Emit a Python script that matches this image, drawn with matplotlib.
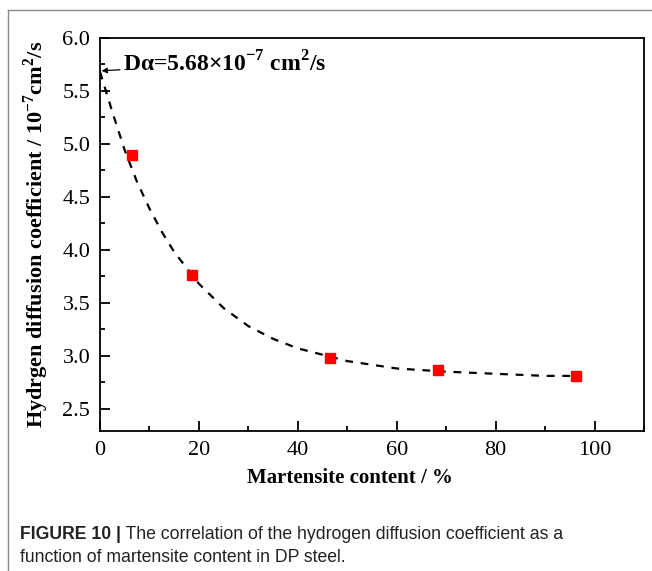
import matplotlib
matplotlib.use('Agg')
import matplotlib.pyplot as plt
from matplotlib.lines import Line2D
from matplotlib.ticker import MultipleLocator

# measured points
martensite = [6.5, 18.5, 46.5, 68.3, 96.3]
diffusion = [4.90, 3.76, 2.98, 2.87, 2.81]

# dashed fit curve
fit_x = [0, 2.5, 5, 7.5, 10, 12.5, 15, 20, 25, 30, 35, 40, 50, 60, 70, 80, 90, 96]
fit_y = [5.68, 5.30, 4.94, 4.64, 4.39, 4.17, 3.98, 3.68, 3.45, 3.28, 3.16, 3.07,
         2.95, 2.88, 2.85, 2.83, 2.81, 2.81]

x_ticks = [0, 20, 40, 60, 80, 100]
y_ticks = [2.5, 3.0, 3.5, 4.0, 4.5, 5.0, 5.5, 6.0]

plt.rcParams['font.family'] = 'Liberation Serif'
plt.rcParams['mathtext.fontset'] = 'custom'
plt.rcParams['mathtext.rm'] = 'Liberation Serif'
plt.rcParams['mathtext.bf'] = 'Liberation Serif:bold'

fig = plt.figure(figsize=(6.52, 5.71), dpi=100)
ax = fig.add_axes([0.1534, 0.2452, 0.8343, 0.6883])

ax.plot(fit_x, fit_y, color='black', linestyle=(0, (3.5, 3.5)), linewidth=1.6)
ax.plot(martensite, diffusion, linestyle='none', marker='s', markersize=7,
        color='#ff0000', markeredgecolor='#ff0000')

ax.set_xlim(0, 110)
ax.set_ylim(2.29, 6.0)
ax.set_xticks(x_ticks)
ax.set_yticks(y_ticks)
ax.set_yticklabels([f'{v:.1f}' for v in y_ticks])
ax.xaxis.set_minor_locator(MultipleLocator(10))
ax.yaxis.set_minor_locator(MultipleLocator(0.25))
ax.tick_params(which='both', direction='in', top=False, right=False, labelsize=16, width=1.3)
ax.tick_params(which='major', length=7, pad=7)
ax.tick_params(which='minor', length=3.5)
for s in ax.spines.values():
    s.set_linewidth(1.3)

ax.set_xlabel('Martensite content / %', fontsize=15, fontweight='bold', labelpad=5)
ax.xaxis.set_label_coords(0.46, -0.095)
ax.set_ylabel(r'Hydrgen diffusion coefficient / 10$^{\mathbf{-7}}$cm$^{\mathbf{2}}$/s',
              fontsize=16, fontweight='bold', labelpad=8)

ax.annotate(r'Dα=5.68×10$^{\mathbf{-7}}$ cm$^{\mathbf{2}}$/s', xy=(0.3, 5.69), xytext=(4.6, 5.755),
            fontsize=17, fontweight='bold', va='center',
            arrowprops=dict(arrowstyle='-|>', color='black', lw=0.9, mutation_scale=8,
                            shrinkA=0, shrinkB=0))

# outer frame of the figure panel
fig.add_artist(Line2D([8 / 652, 8 / 652], [0, 1 - 10 / 571], color='#8a8a8a', lw=1.0))
fig.add_artist(Line2D([8 / 652, 1], [1 - 10 / 571, 1 - 10 / 571], color='#8a8a8a', lw=1.0))

# caption
t1 = fig.text(20 / 652, 1 - 543 / 571, 'FIGURE 10 |', fontsize=12.7, fontweight='bold',
              family='Liberation Sans', color='#222222', va='bottom')
ax.annotate(' The correlation of the hydrogen diffusion coefficient as a', xy=(1, 0), xycoords=t1,
            fontsize=12.7, family='Liberation Sans', color='#222222', va='bottom',
            annotation_clip=False)
fig.text(20 / 652, 1 - 566 / 571, 'function of martensite content in DP steel.', fontsize=12.7,
         family='Liberation Sans', color='#222222', va='bottom')

fig.savefig('out.png', dpi=100)
